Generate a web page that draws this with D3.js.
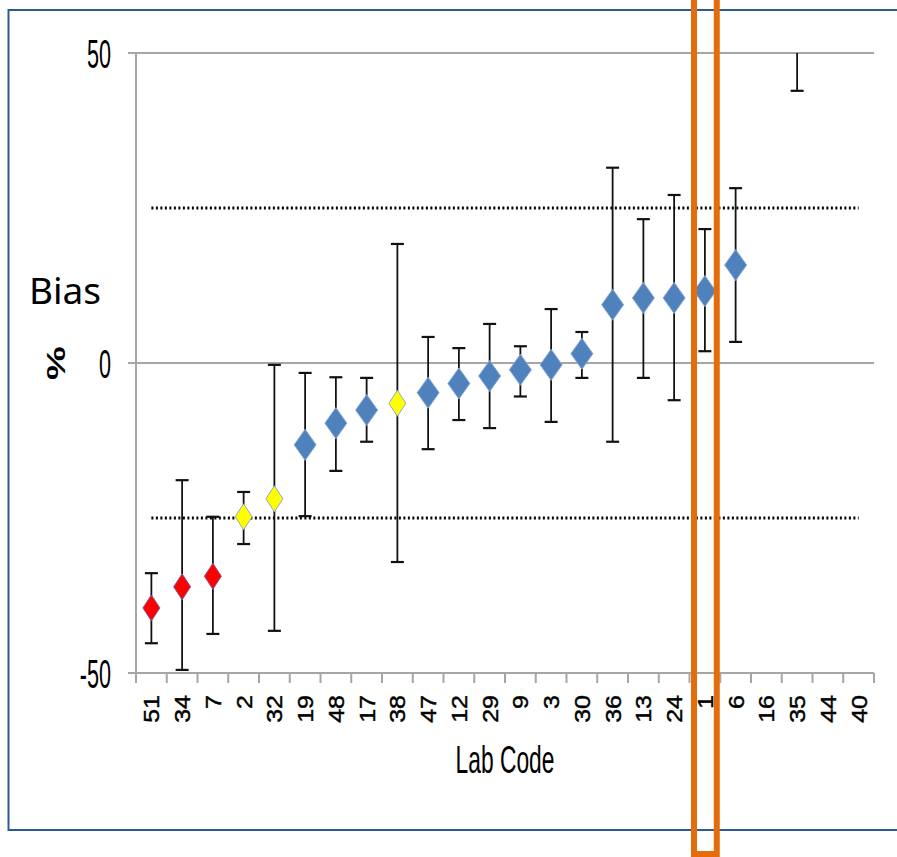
<!DOCTYPE html>
<html>
<head>
<meta charset="utf-8">
<title>Bias by lab code</title>
<script src="https://cdnjs.cloudflare.com/ajax/libs/d3/7.8.5/d3.min.js"></script>
<style>
  body { margin: 0; background: #fff; }
  text { font-family: "Liberation Sans", Arial, sans-serif; fill: #000; }
</style>
</head>
<body>
<svg id="chart" width="897" height="857"></svg>
<script>
// lab codes, in plotted order
var labs = ["51","34","7","2","32","19","48","17","38","47","12","29","9","3","30","36","13","24","1","6","16","35","44","40"];
// bias %, with error bar ends (null = no result)
var bias = [-39.5,-36.1,-34.4,-24.8,-21.9,-13.2,-9.7,-7.6,-6.5,-4.8,-3.3,-2.1,-1.1,-0.3,1.5,9.4,10.5,10.5,11.6,15.8,null,65,null,null];
var low  = [-45.2,-49.5,-43.7,-29.2,-43.2,-24.7,-17.4,-12.7,-32.1,-13.9,-9.2,-10.5,-5.4,-9.5,-2.4,-12.7,-2.4,-6.0,1.9,3.4,null,43.9,null,null];
var high = [-33.9,-18.9,-24.8,-20.8,-0.3,-1.6,-2.3,-2.4,19.2,4.2,2.4,6.3,2.7,8.7,5.0,31.5,23.2,27.1,21.6,28.2,null,86,null,null];
var grade = ["red","red","red","yellow","yellow","blue","blue","blue","yellow","blue","blue","blue","blue","blue","blue","blue","blue","blue","blue","blue","blue","blue","blue","blue"];
var limits = [25, -25];
var yTicks = [50, 0, -50];
var highlight = "1";

var fills = {red: "#FF0000", yellow: "#FFFF00", blue: "#4F81BD"};
var strokes = {red: "#7B5E9E", yellow: "#8FA8C6", blue: "#86A8D6"};

var svg = d3.select("#chart");

var x = d3.scaleBand().domain(labs).range([136, 874]);
var y = d3.scaleLinear().domain([-50, 50]).range([673, 53]);
var cx = function(l) { return x(l) + x.bandwidth() / 2; };

// outer frame
svg.append("rect")
  .attr("x", 8.5).attr("y", 10).attr("width", 900).attr("height", 820)
  .attr("fill", "none").attr("stroke", "#2E5A94").attr("stroke-width", 2);

svg.append("clipPath").attr("id", "plot")
  .append("rect").attr("x", 120).attr("y", y(50)).attr("width", 780).attr("height", y(-50) - y(50));

// gridlines (these include the axis at -50)
svg.append("g").selectAll("line").data(yTicks).enter().append("line")
  .attr("x1", 128).attr("x2", 874)
  .attr("y1", function(d) { return y(d); }).attr("y2", function(d) { return y(d); })
  .attr("stroke", "#A6A6A6").attr("stroke-width", 2);

// y axis line
svg.append("line")
  .attr("x1", 136).attr("x2", 136).attr("y1", y(50)).attr("y2", y(-50))
  .attr("stroke", "#A6A6A6").attr("stroke-width", 2);

// category ticks under the x axis
var edges = labs.map(function(l) { return x(l); }).concat([x.range()[1]]);
svg.append("g").selectAll("line").data(edges).enter().append("line")
  .attr("x1", function(d) { return d; }).attr("x2", function(d) { return d; })
  .attr("y1", y(-50)).attr("y2", y(-50) + 10)
  .attr("stroke", "#A6A6A6").attr("stroke-width", 2);

// y tick labels (squeezed, like the original)
svg.append("g").selectAll("text").data(yTicks).enter().append("text")
  .attr("transform", function(d) { return "translate(111," + (y(d) + 15) + ") scale(0.54,1)"; })
  .attr("text-anchor", "end")
  .style("font-size", "40px")
  .text(function(d) { return d; });

// x tick labels
svg.append("g").selectAll("text").data(labs).enter().append("text")
  .attr("transform", function(d) { return "translate(" + (cx(d) + 8) + ",695) scale(0.85,1) rotate(-90)"; })
  .attr("text-anchor", "end")
  .style("font-size", "25px")
  .style("stroke", "#000").style("stroke-width", 0.5)
  .text(function(d) { return d; });

// axis titles
svg.append("text")
  .attr("transform", "translate(505,773) scale(0.6,1)")
  .attr("text-anchor", "middle")
  .style("font-size", "38px")
  .text("Lab Code");

svg.append("text")
  .attr("transform", "translate(65,363) scale(0.7,1) rotate(-90)")
  .attr("text-anchor", "middle")
  .style("font-size", "38px").style("font-weight", "bold")
  .text("%");

svg.append("text")
  .attr("x", 29).attr("y", 304)
  .style("font-family", "'Noto Sans', sans-serif")
  .style("font-size", "37px")
  .text("Bias");

// +/- 25 % limits
var first = cx(labs[0]), last = cx(labs[labs.length - 1]);
svg.append("g").selectAll("line").data(limits).enter().append("line")
  .attr("x1", first).attr("x2", last)
  .attr("y1", function(d) { return y(d); }).attr("y2", function(d) { return y(d); })
  .attr("stroke", "#000").attr("stroke-width", 3).attr("stroke-dasharray", "2,2.5");

var pts = labs.map(function(l, i) {
  return {lab: l, v: bias[i], lo: low[i], hi: high[i], s: grade[i]};
}).filter(function(d) { return d.v !== null; });

var g = svg.append("g").attr("clip-path", "url(#plot)");

// error bars
g.selectAll(".bar").data(pts).enter().append("line")
  .attr("x1", function(d) { return cx(d.lab); }).attr("x2", function(d) { return cx(d.lab); })
  .attr("y1", function(d) { return y(d.lo); }).attr("y2", function(d) { return y(d.hi); })
  .attr("stroke", "#111").attr("stroke-width", 1.8);

var caps = [];
pts.forEach(function(d) { caps.push({lab: d.lab, v: d.lo}); caps.push({lab: d.lab, v: d.hi}); });
g.selectAll(".cap").data(caps).enter().append("line")
  .attr("x1", function(d) { return cx(d.lab) - 6.5; }).attr("x2", function(d) { return cx(d.lab) + 6.5; })
  .attr("y1", function(d) { return y(d.v); }).attr("y2", function(d) { return y(d.v); })
  .attr("stroke", "#111").attr("stroke-width", 2.2);

// diamonds
function diamond(w, h) {
  return "M0," + (-h / 2) + "L" + (w / 2) + ",0L0," + (h / 2) + "L" + (-w / 2) + ",0Z";
}
g.selectAll(".pt").data(pts).enter().append("path")
  .attr("transform", function(d) { return "translate(" + cx(d.lab) + "," + y(d.v) + ")"; })
  .attr("d", function(d) { return d.s === "blue" ? diamond(22, 31) : diamond(17, 26); })
  .attr("fill", function(d) { return fills[d.s]; })
  .attr("stroke", function(d) { return strokes[d.s]; })
  .attr("stroke-width", 1);

// orange box round the highlighted lab
svg.append("rect")
  .attr("x", x(highlight) + 4.5).attr("y", -10)
  .attr("width", x.bandwidth() - 8).attr("height", 864)
  .attr("fill", "none").attr("stroke", "#E46C0A").attr("stroke-width", 6);
</script>
</body>
</html>
